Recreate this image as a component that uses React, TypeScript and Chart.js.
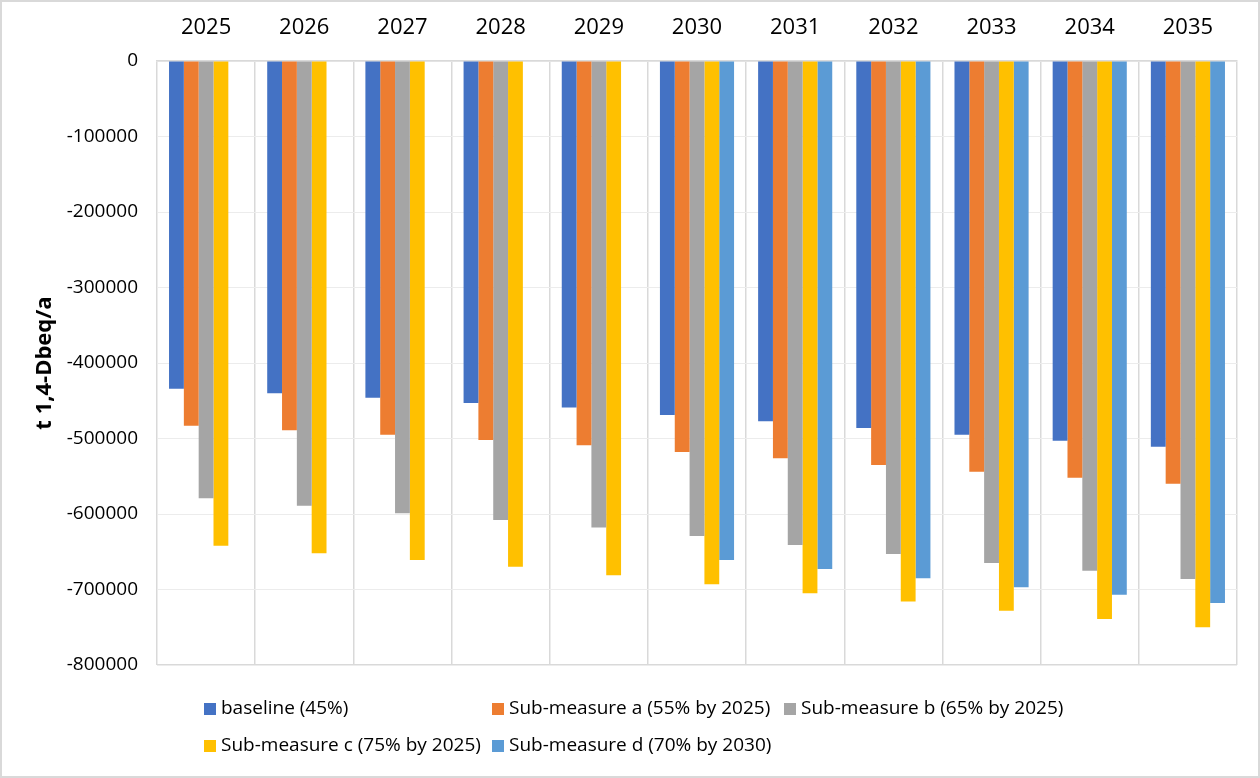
import React, { useEffect, useRef } from "react";
import { Chart, registerables } from "chart.js";

Chart.register(...registerables);

const years = ["2025", "2026", "2027", "2028", "2029", "2030", "2031", "2032", "2033", "2034", "2035"];
const baseline = [-434000, -440000, -446000, -453000, -459000, -469000, -477000, -486000, -495000, -503000, -511000];
const subA = [-483000, -489000, -495000, -502000, -509000, -518000, -526000, -535000, -544000, -552000, -560000];
const subB = [-579000, -589000, -599000, -608000, -618000, -629000, -641000, -653000, -665000, -675000, -686000];
const subC = [-642000, -652000, -661000, -670000, -681000, -693000, -705000, -716000, -728000, -739000, -750000];
const subD = [null, null, null, null, null, -661000, -673000, -685000, -697000, -707000, -718000];
const seriesLabels = [
  "baseline (45%)",
  "Sub-measure a (55% by 2025)",
  "Sub-measure b (65% by 2025)",
  "Sub-measure c (75% by 2025)",
  "Sub-measure d (70% by 2030)",
];
const seriesColors = ["#4472C4", "#ED7D31", "#A5A5A5", "#FFC000", "#5B9BD5"];
const yTitle = "t 1,4-Dbeq/a";

const FONT = "'Open Sans', sans-serif";

const gridLegend = {
  id: "gridLegend",
  afterDraw(chart: any) {
    const ctx = chart.ctx;
    const colX = [204, 492, 784];
    const rowY = [709, 746];
    ctx.save();
    ctx.font = `19px ${FONT}`;
    ctx.textBaseline = "middle";
    ctx.textAlign = "left";
    chart.data.datasets.forEach((ds: any, i: number) => {
      const x = colX[i % 3];
      const y = rowY[Math.floor(i / 3)];
      ctx.fillStyle = ds.backgroundColor;
      ctx.fillRect(x, y - 6, 12, 12);
      ctx.fillStyle = "#000";
      ctx.fillText(ds.label, x + 17, y);
    });
    ctx.restore();
  },
};

export default function App() {
  const ref = useRef<HTMLCanvasElement | null>(null);
  useEffect(() => {
    if (!ref.current) return;
    const data = [baseline, subA, subB, subC, subD];
    const chart = new Chart(ref.current, {
      type: "bar",
      data: {
        labels: years,
        datasets: data.map((d, i) => ({
          label: seriesLabels[i],
          data: d as any,
          backgroundColor: seriesColors[i],
          borderWidth: 0,
          categoryPercentage: 0.755,
          barPercentage: 1,
        })),
      },
      options: {
        responsive: false,
        animation: false,
        layout: { padding: { left: 0, right: 23, top: 0, bottom: 113 } },
        plugins: { legend: { display: false }, tooltip: { enabled: false } },
        scales: {
          x: {
            position: "top",
            grid: { color: "#d9d9d9", lineWidth: 1.5, drawTicks: false, offset: true },
            border: { color: "#d9d9d9", width: 1.5 },
            ticks: { color: "#000", font: { family: FONT, size: 22 }, padding: 20, maxRotation: 0 },
            afterFit(scale: any) {
              scale.height = 61;
            },
          },
          y: {
            min: -800000,
            max: 0,
            grid: {
              drawTicks: false,
              color: (c: any) => (c.tick && c.tick.value === -800000 ? "#d9d9d9" : "#ececec"),
              lineWidth: (c: any) => (c.tick && c.tick.value === -800000 ? 1.5 : 1),
            },
            border: { display: false },
            ticks: {
              stepSize: 100000,
              color: "#000",
              font: { family: FONT, size: 19 },
              padding: 19,
              callback: (v: any) => String(v),
            },
            title: {
              display: true,
              text: yTitle,
              color: "#000",
              font: { family: FONT, size: 22, weight: "bold" },
              padding: { top: 32, bottom: 0 },
            },
            afterFit(scale: any) {
              scale.width = 157;
            },
          },
        },
      },
      plugins: [gridLegend],
    });
    return () => chart.destroy();
  }, []);
  return (
    <div style={{ position: "fixed", left: 0, top: 0, width: 1260, height: 778, background: "#fff" }}>
      <canvas ref={ref} width={1260} height={778} style={{ position: "absolute", left: 0, top: 0, width: 1260, height: 778 }} />
      <div
        style={{
          position: "absolute",
          left: 0,
          top: 0,
          width: 1260,
          height: 778,
          boxSizing: "border-box",
          border: "2px solid #d9d9d9",
          pointerEvents: "none",
        }}
      />
    </div>
  );
}
